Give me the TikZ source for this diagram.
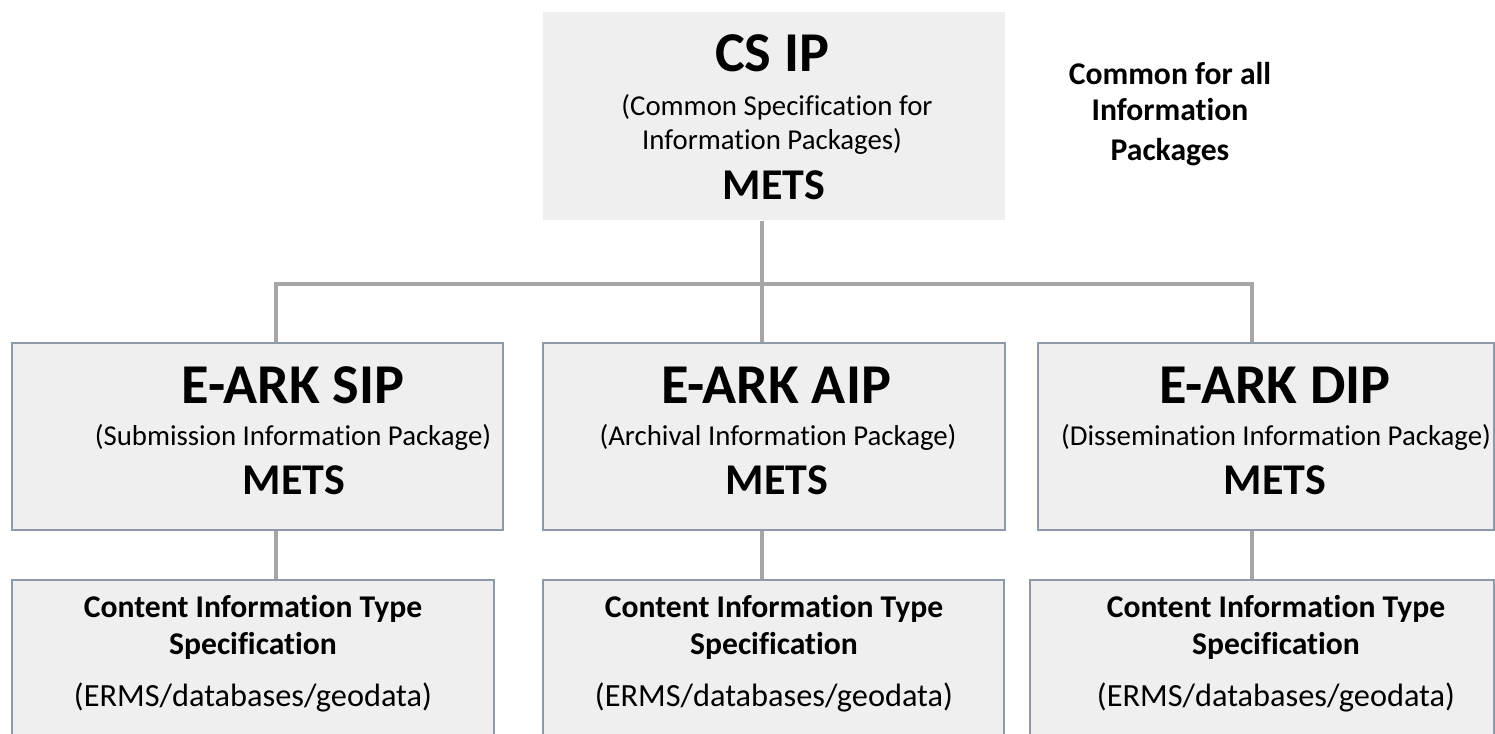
\documentclass[tikz,border=0pt]{standalone}
\usepackage{fontspec}
\setmainfont{Carlito}[Ligatures=NoCommon]
\usetikzlibrary{positioning,calc}
\definecolor{boxfill}{RGB}{239,239,239}
\definecolor{boxline}{RGB}{140,154,170}
\definecolor{linkgray}{RGB}{166,166,166}

\begin{document}
\begin{tikzpicture}[
    box/.style={rectangle, fill=boxfill, draw=boxline, line width=0.5pt, inner sep=0pt},
    topbox/.style={box, draw=none},
    midbox/.style={box, minimum height=1.87cm},
    citbox/.style={box, minimum height=1.65cm},
    link/.style={draw=linkgray, line width=0.9pt},
    title/.style={anchor=base, font=\fontsize{16}{18}\selectfont\bfseries},
    subtitle/.style={anchor=base, font=\fontsize{8.2}{10}\selectfont},
    mets/.style={anchor=base, font=\fontsize{12.5}{14}\selectfont\bfseries},
    cit/.style={anchor=base, font=\fontsize{9}{11}\selectfont\bfseries},
    citnote/.style={anchor=base, font=\fontsize{9.2}{11}\selectfont}
]
    \useasboundingbox (0,0) rectangle (14.95,7.34);

    % boxes
    \node[topbox, minimum width=4.62cm, minimum height=2.08cm] (csip) at (7.74,6.18) {};
    \node[midbox, minimum width=4.91cm] (sip) at (2.575,2.975) {};
    \node[midbox, minimum width=4.62cm] (aip) at (7.74,2.975) {};
    \node[midbox, minimum width=4.56cm] (dip) at (12.66,2.975) {};
    \node[citbox, minimum width=4.82cm] (sipcit) at (2.53,0.715) {};
    \node[citbox, minimum width=4.61cm] (aipcit) at (7.735,0.715) {};
    \node[citbox, minimum width=4.64cm] (dipcit) at (12.62,0.715) {};

    % top box text
    \node[title] (csip-title) at (7.72,6.62) {CS IP};
    \node[subtitle] (csip-sub1) at (7.77,6.18) {(Common Specification for};
    \node[subtitle] (csip-sub2) at (7.72,5.84) {Information Packages)};
    \node[mets] (csip-mets) at (7.74,5.34) {METS};
    \node[cit] (common1) at (11.70,6.49) {Common for all};
    \node[cit] (common2) at (11.70,6.13) {Information};
    \node[cit] (common3) at (11.70,5.73) {Packages};

    % package boxes
    \node[title] (sip-title) at (2.93,3.30) {E-ARK SIP};
    \node[subtitle] (sip-sub) at (2.93,2.88) {(Submission Information Package)};
    \node[mets] (sip-mets) at (2.94,2.39) {METS};
    \node[title] (aip-title) at (7.76,3.30) {E-ARK AIP};
    \node[subtitle] (aip-sub) at (7.78,2.88) {(Archival Information Package)};
    \node[mets] (aip-mets) at (7.77,2.39) {METS};
    \node[title] (dip-title) at (12.75,3.30) {E-ARK DIP};
    \node[subtitle] (dip-sub) at (12.76,2.88) {(Dissemination Information Package)};
    \node[mets] (dip-mets) at (12.75,2.39) {METS};

    % content information type boxes
    \node[cit] (sipcit-1) at (2.53,1.16) {Content Information Type};
    \node[cit] (sipcit-2) at (2.53,0.79) {Specification};
    \node[citnote] (sipcit-3) at (2.53,0.27) {(ERMS/databases/geodata)};
    \node[cit] (aipcit-1) at (7.74,1.16) {Content Information Type};
    \node[cit] (aipcit-2) at (7.74,0.79) {Specification};
    \node[citnote] (aipcit-3) at (7.74,0.27) {(ERMS/databases/geodata)};
    \node[cit] (dipcit-1) at (12.76,1.16) {Content Information Type};
    \node[cit] (dipcit-2) at (12.76,0.79) {Specification};
    \node[citnote] (dipcit-3) at (12.76,0.27) {(ERMS/databases/geodata)};

    % connectors
    \coordinate (sip-in) at (2.76,4.50);
    \coordinate (aip-in) at (7.62,4.50);
    \coordinate (dip-in) at (12.52,4.50);
    \draw[link] (csip.south -| aip-in) -- (aip-in |- aip.north);
    \draw[link] (sip-in |- sip.north) |- (dip-in) -- (dip-in |- dip.north);
    \draw[link] (sip-in |- sip.south) -- (sip-in |- sipcit.north);
    \draw[link] (aip-in |- aip.south) -- (aip-in |- aipcit.north);
    \draw[link] (dip-in |- dip.south) -- (dip-in |- dipcit.north);
\end{tikzpicture}
\end{document}
